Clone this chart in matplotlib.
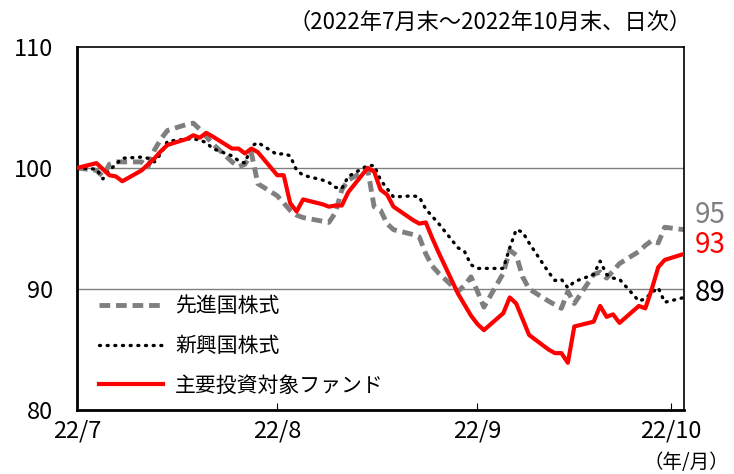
import numpy as np
import pandas as pd
import matplotlib
matplotlib.use("Agg")
import matplotlib.pyplot as plt
import matplotlib.dates as mdates

plt.rcParams['font.family'] = ['Noto Sans CJK JP', 'DejaVu Sans']

#business days, end of July to end of October 2022
dates = pd.bdate_range("2022-07-29", "2022-10-31")

developed = [100.0, 99.8, 99.3, 100.3, 100.5, 100.5, 100.5, 100.1, 101.5, 102.4,
             103.1, 103.6, 103.7, 103.2, 102.6, 102.0, 100.5, 100.1, 100.3, 101.2,
             98.7, 97.7, 97.1, 96.5, 96.1, 95.9, 95.6, 95.5, 96.3, 98.2,
             99.0, 99.9, 96.8, 96.5, 95.4, 94.9, 94.5, 94.3, 92.9, 91.9,
             91.3, 89.8, 90.3, 91.0, 89.8, 88.5, 91.3, 93.2, 92.8, 91.0,
             90.0, 89.0, 88.7, 88.4, 89.8, 88.8, 91.2, 91.4, 90.9, 91.5,
             92.1, 93.1, 93.6, 94.0, 93.8, 95.1, 94.9]
emerging = [100.0, 99.9, 99.1, 99.8, 100.3, 100.8, 100.9, 100.8, 100.5, 101.2,
            102.2, 102.4, 102.4, 102.3, 102.1, 101.6, 101.0, 100.6, 100.4, 101.8,
            102.1, 101.1, 101.2, 101.0, 99.8, 99.4, 99.0, 98.8, 98.4, 98.3,
            99.3, 100.2, 100.2, 99.0, 98.3, 97.6, 97.7, 97.6, 96.6, 96.0,
            95.4, 93.4, 93.1, 92.0, 91.7, 91.7, 91.7, 93.4, 94.9, 94.7,
            93.8, 91.4, 90.7, 90.8, 90.1, 90.6, 91.2, 92.3, 91.2, 90.9,
            90.8, 89.0, 89.2, 89.7, 90.1, 88.9, 89.3]
fund = [100.0, 100.4, 99.9, 99.4, 99.3, 98.9, 99.8, 100.3, 100.8, 101.4,
        101.9, 102.4, 102.7, 102.5, 102.9, 102.6, 101.6, 101.6, 101.2, 101.6,
        101.3, 99.4, 99.4, 97.1, 96.4, 97.4, 97.0, 96.8, 96.9, 96.9,
        98.0, 100.0, 99.7, 98.2, 97.8, 96.8, 95.7, 95.4, 95.5, 94.2,
        93.0, 89.6, 88.7, 87.8, 87.1, 86.6, 88.0, 89.3, 88.8, 87.5,
        86.2, 85.0, 84.7, 84.7, 83.9, 86.9, 87.3, 88.6, 87.7, 87.9,
        87.2, 88.6, 88.4, 90.0, 91.8, 92.4, 92.9]

labels = ["先進国株式", "新興国株式", "主要投資対象ファンド"]
end_labels = ["95", "93", "89"]
tick_dates = pd.to_datetime(["2022-07-29", "2022-08-29", "2022-09-29", "2022-10-29"])
tick_labels = ["22/7", "22/8", "22/9", "22/10"]

fig = plt.figure(figsize=(7.34, 4.74), dpi=100)
ax = fig.add_axes([0.105, 0.135, 0.827, 0.766])

ax.axhline(90, color="#808080", lw=1, zorder=1)
ax.axhline(100, color="#808080", lw=1, zorder=1)

ax.plot(dates, developed, color="#7f7f7f", lw=3.5, dashes=(2.2, 1.2), label=labels[0], zorder=2)
ax.plot(dates, emerging, color="black", lw=2.4, dashes=(0.3, 2.0), dash_capstyle="round",
        label=labels[1], zorder=3)
ax.plot(dates, fund, color="#ff0000", lw=3, label=labels[2], zorder=4)

ax.set_xlim(dates[0], dates[-1])
ax.set_ylim(80, 110)
ax.set_yticks([80, 90, 100, 110])
ax.set_xticks(tick_dates)
ax.set_xticklabels(tick_labels)
ax.tick_params(axis="y", length=0, labelsize=17, pad=17)
ax.tick_params(axis="x", direction="in", length=5, labelsize=17, pad=7)

for s in ["left", "bottom"]:
    ax.spines[s].set_linewidth(2)
for s in ["top", "right"]:
    ax.spines[s].set_linewidth(1.2)

leg = ax.legend(loc="lower left", bbox_to_anchor=(0.005, -0.015), frameon=False, fontsize=15,
                handlelength=3.1, labelspacing=0.85, handletextpad=0.55)

#end values on the right
ax.text(1.018, 0.537, end_labels[0], transform=ax.transAxes, color="#7f7f7f", fontsize=20, va="center")
ax.text(1.018, 0.455, end_labels[1], transform=ax.transAxes, color="#ff0000", fontsize=20, va="center")
ax.text(1.018, 0.322, end_labels[2], transform=ax.transAxes, color="black", fontsize=20, va="center")

fig.text(0.942, 0.953, "（2022年7月末～2022年10月末、日次）", ha="right", va="center", fontsize=16)
fig.text(0.993, 0.025, "（年/月）", ha="right", va="center", fontsize=14)

fig.savefig("out.png", dpi=100)
